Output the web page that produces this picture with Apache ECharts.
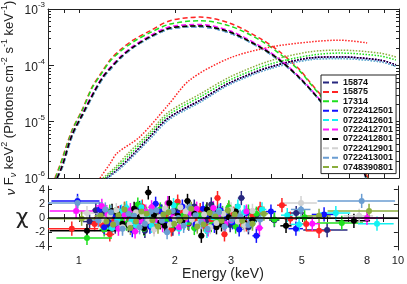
<!DOCTYPE html>
<html><head><meta charset="utf-8">
<script src="https://cdn.jsdelivr.net/npm/echarts@6/dist/echarts.min.js"></script>
<style>html,body{margin:0;padding:0;background:#fff}#c{width:407px;height:284px}</style>
</head><body><div id="c"></div>
<script>
const names = ['15874','15875','17314','0722412501','0722412601','0722412701','0722412801','0722412901','0722413001','0748390801'];
const colors = ['#27277f','#ff2424','#1ee01e','#1212ff','#12f2f2','#ff12ff','#000000','#d2d2d2','#6a9dd2','#8aad3c'];

const xTicks = [0.9,1,2,3,4,5,6,7,8,9,10];
const xLabels = [1,2,3,5,8,10];
const yMinor = [2e-6,3e-6,4e-6,5e-6,6e-6,7e-6,8e-6,9e-6,2e-5,3e-5,4e-5,5e-5,6e-5,7e-5,8e-5,9e-5,2e-4,3e-4,4e-4,5e-4,6e-4,7e-4,8e-4,9e-4];
const chiTicks = [-4,-2,0,2,4];

// model components [E keV, nuFnu]
const dashedRed = [[0.841,1.0e-6],[0.872,1.7e-6],[0.951,7.1e-6],[1.022,1.6e-5],[1.098,4.1e-5],[1.163,6.8e-5],[1.25,1.24e-4],[1.343,1.86e-4],[1.475,2.8e-4],[1.667,4.1e-4],[1.925,6.2e-4],[2.39,7.2e-4],[2.96,5.6e-4],[3.68,3.0e-4],[4.24,1.74e-4],[4.9,8.3e-5],[5.27,5.0e-5],[5.87,2.4e-5],[6.53,1.0e-5],[7.28,3.4e-6],[8.0,1.0e-6]];
const dashedGreen = [[0.845,1.0e-6],[0.875,1.7e-6],[0.953,7.0e-6],[1.025,1.6e-5],[1.1,4.0e-5],[1.165,6.6e-5],[1.25,1.18e-4],[1.343,1.75e-4],[1.475,2.6e-4],[1.667,3.8e-4],[1.925,5.4e-4],[2.39,6.2e-4],[2.96,5.0e-4],[3.68,2.8e-4],[4.24,1.6e-4],[4.9,7.9e-5],[5.27,4.8e-5],[5.87,2.3e-5],[6.53,9.6e-6],[7.28,3.3e-6],[7.98,1.0e-6]];
const dashedLowA = [[0.854,1.0e-6],[0.885,1.6e-6],[0.951,5.8e-6],[1.029,1.4e-5],[1.122,3.6e-5],[1.188,6.2e-5],[1.262,9.3e-5],[1.36,1.45e-4],[1.475,2.1e-4],[1.667,3.2e-4],[1.925,4.6e-4],[2.39,5.0e-4],[2.96,3.9e-4],[3.68,2.1e-4],[4.24,1.24e-4],[4.9,5.9e-5],[5.66,2.4e-5],[6.53,8.7e-6],[7.28,3.2e-6],[7.9,1.0e-6]];
const dashedMag = [[0.852,1.0e-6],[0.883,1.6e-6],[0.95,5.9e-6],[1.028,1.45e-5],[1.12,3.7e-5],[1.187,6.4e-5],[1.26,9.6e-5],[1.36,1.5e-4],[1.475,2.2e-4],[1.667,3.35e-4],[1.925,4.85e-4],[2.39,5.3e-4],[2.96,4.1e-4],[3.68,2.2e-4],[4.24,1.28e-4],[4.9,6.1e-5],[5.66,2.45e-5],[6.53,8.8e-6],[7.28,3.2e-6],[7.9,1.0e-6]];
const dashedLowB = [[0.856,1.0e-6],[0.887,1.55e-6],[0.953,5.6e-6],[1.031,1.35e-5],[1.124,3.5e-5],[1.19,6.0e-5],[1.264,9.0e-5],[1.36,1.4e-4],[1.475,2.05e-4],[1.667,3.1e-4],[1.925,4.45e-4],[2.39,4.8e-4],[2.96,3.75e-4],[3.68,2.05e-4],[4.24,1.2e-4],[4.9,5.8e-5],[5.66,2.35e-5],[6.53,8.5e-6],[7.28,3.1e-6],[7.88,1.0e-6]];

const dottedRed = [[1.163,1.0e-6],[1.25,1.8e-6],[1.314,2.75e-6],[1.55,5.4e-6],[1.896,1.95e-5],[2.22,5.5e-5],[2.96,1.35e-4],[3.95,2.1e-4],[5.27,2.6e-4],[6.53,2.8e-4],[7.95,2.5e-4]];
const dottedLowA = [[1.223,1.0e-6],[1.314,1.38e-6],[1.443,2.3e-6],[1.667,5.4e-6],[1.896,1.15e-5],[2.39,2.4e-5],[2.96,4.9e-5],[3.95,9.3e-5],[5.27,1.35e-4],[6.53,1.41e-4],[8.72,1.24e-4],[9.78,1.02e-4]];
const dottedLowB = [[1.23,1.0e-6],[1.32,1.35e-6],[1.45,2.2e-6],[1.675,5.1e-6],[1.905,1.08e-5],[2.4,2.25e-5],[2.96,4.6e-5],[3.95,8.7e-5],[5.27,1.26e-4],[6.53,1.32e-4],[8.72,1.16e-4],[9.78,9.6e-5]];
const dottedGreen = [[1.206,1.0e-6],[1.3,1.45e-6],[1.43,2.5e-6],[1.667,6.0e-6],[1.896,1.3e-5],[2.39,2.75e-5],[2.96,5.5e-5],[3.95,1.05e-4],[5.27,1.5e-4],[6.53,1.65e-4],[8.72,1.47e-4],[9.78,1.24e-4]];
const dottedOlive = [[1.188,1.0e-6],[1.29,1.5e-6],[1.42,2.7e-6],[1.667,6.6e-6],[1.896,1.45e-5],[2.39,3.1e-5],[2.96,6.2e-5],[3.95,1.2e-4],[5.27,1.74e-4],[6.53,1.86e-4],[8.72,1.65e-4],[9.78,1.41e-4]];

// residuals [E keV, chi, half bin width keV]; chi error is 1 by definition
const res15874 = [[1.08,-0.5,0.05],[1.18,0.6,0.04],[1.3,-1.2,0.04],[1.42,0.3,0.04],[1.55,1.4,0.04],[1.68,-0.7,0.04],[1.82,0.9,0.05],[1.97,-1.5,0.05],[2.12,0.2,0.05],[2.3,1.6,0.05],[2.5,-0.4,0.06],[2.72,0.8,0.06],[2.98,-1.0,0.07],[3.23,2.8,0.08],[3.6,0.4,0.1],[4.1,-0.3,0.15],[4.8,0.7,0.3],[6.0,-1.7,0.95],
  [1.13,1.1,0.03],[1.24,-0.9,0.03],[1.36,0.7,0.03],[1.48,-0.2,0.03],[1.61,-1.8,0.03],[1.75,0.4,0.04],[1.9,-0.3,0.04],[2.04,1.2,0.04],[2.21,-0.8,0.04],[2.4,0.3,0.05],[2.6,1.9,0.05],[2.85,-0.6,0.05],[3.1,0.5,0.06],[3.4,-1.3,0.07]];
const res15875 = [[0.95,-1.5,0.2],[1.12,-0.85,0.05],[1.19,-1.1,0.04],[1.25,-2.3,0.04],[1.33,0.7,0.04],[1.45,-0.3,0.04],[1.58,1.6,0.04],[1.72,-1.2,0.04],[1.86,0.4,0.05],[2.04,2.3,0.05],[2.2,-0.7,0.05],[2.4,1.1,0.05],[2.6,-0.2,0.06],[2.72,2.8,0.06],[2.86,-2.3,0.06],[3.05,0.6,0.07],[3.35,-0.9,0.08],[3.7,1.3,0.1],[4.33,1.8,0.15],[4.6,-0.1,0.2],[5.16,-0.85,0.3],[5.66,-1.8,0.5],
  [1.29,-0.4,0.03],[1.39,1.3,0.03],[1.51,0.2,0.03],[1.65,-0.6,0.03],[1.79,1.0,0.04],[1.95,-1.6,0.04],[2.12,0.8,0.04],[2.3,-0.1,0.04],[2.5,-1.2,0.05],[2.95,1.4,0.05],[3.2,-0.5,0.06],[3.5,0.4,0.07]];
const res17314 = [[1.06,-2.8,0.21],[1.2,-1.6,0.04],[1.3,0.5,0.04],[1.41,-0.8,0.04],[1.53,1.9,0.04],[1.66,-0.2,0.04],[1.8,1.2,0.05],[1.96,-1.0,0.05],[2.12,0.3,0.05],[2.3,-1.4,0.05],[2.5,0.9,0.06],[2.7,-0.5,0.06],[2.95,1.5,0.07],[3.25,-0.3,0.08],[3.6,0.6,0.1],[4.1,-0.2,0.15],[5.1,0.1,0.3],[6.67,-0.7,1.1],
  [1.25,0.9,0.03],[1.35,-0.3,0.03],[1.47,0.6,0.03],[1.6,-1.5,0.03],[1.73,0.3,0.04],[1.88,-0.4,0.04],[2.04,1.7,0.04],[2.2,-0.6,0.04],[2.4,0.4,0.05],[2.6,-1.0,0.05],[2.82,0.7,0.05],[3.1,-1.2,0.06],[3.4,0.9,0.07]];
const res0722412501 = [[0.99,2.4,0.17],[1.16,1.2,0.05],[1.24,-0.6,0.04],[1.35,0.8,0.04],[1.47,-1.7,0.04],[1.6,0.4,0.04],[1.74,2.0,0.04],[1.88,-0.9,0.05],[2.03,0.6,0.05],[2.2,-0.2,0.05],[2.45,1.3,0.05],[2.66,-1.1,0.06],[2.9,0.2,0.06],[3.18,-1.6,0.08],[3.6,-2.5,0.1],[4.0,0.9,0.15],[4.79,-1.5,0.25],[5.87,0.5,0.5],
  [1.2,-1.3,0.03],[1.3,0.2,0.03],[1.41,1.0,0.03],[1.54,-0.5,0.03],[1.67,-1.2,0.03],[1.81,0.9,0.04],[1.95,-0.1,0.04],[2.11,1.6,0.04],[2.32,-0.9,0.04],[2.55,0.3,0.05],[2.78,1.1,0.05],[3.03,-0.6,0.06],[3.35,0.7,0.07]];
const res0722412601 = [[1.27,-1.4,0.06],[1.36,0.9,0.04],[1.46,-0.4,0.04],[1.57,1.5,0.04],[1.69,-1.1,0.04],[1.83,0.2,0.05],[1.98,1.8,0.05],[2.14,-0.7,0.05],[2.32,0.5,0.05],[2.52,-1.8,0.06],[2.75,1.0,0.06],[3.0,-0.4,0.07],[3.3,0.8,0.08],[3.75,1.2,0.12],[4.5,0.4,0.2],[4.9,-0.9,0.3],[6.39,0.7,0.7],[8.6,-0.8,1.1],
  [1.32,-0.2,0.03],[1.41,1.4,0.03],[1.51,-1.0,0.03],[1.63,0.3,0.03],[1.76,-0.5,0.04],[1.9,0.9,0.04],[2.06,-1.5,0.04],[2.23,1.1,0.04],[2.42,-0.3,0.05],[2.63,0.1,0.05],[2.87,-1.1,0.05],[3.15,1.6,0.06],[3.5,-0.6,0.07]];
const res0722412701 = [[0.98,1.0,0.17],[1.18,1.7,0.05],[1.28,-0.9,0.04],[1.39,0.4,0.04],[1.5,-1.9,0.04],[1.62,0.9,0.04],[1.76,-0.3,0.04],[1.9,2.1,0.05],[2.06,-1.3,0.05],[2.24,0.7,0.05],[2.44,-0.5,0.05],[2.64,1.4,0.06],[2.88,-0.8,0.06],[3.1,0.3,0.07],[3.68,-1.4,0.1],[5.39,-0.8,0.3],[8.0,0.0,1.0],
  [1.23,0.5,0.03],[1.33,-1.5,0.03],[1.45,1.1,0.03],[1.56,-0.4,0.03],[1.69,1.5,0.04],[1.83,-1.0,0.04],[1.98,0.2,0.04],[2.15,-0.2,0.04],[2.34,1.3,0.05],[2.54,-1.6,0.05],[2.76,0.6,0.05],[3.0,-0.3,0.06],[3.35,0.9,0.07]];
const res0722412801 = [[1.06,-1.8,0.25],[1.22,-0.4,0.04],[1.32,0.6,0.04],[1.43,-1.0,0.04],[1.55,0.2,0.04],[1.65,3.6,0.04],[1.8,-0.6,0.05],[1.92,2.1,0.05],[2.04,0.3,0.05],[2.19,2.4,0.05],[2.42,-2.5,0.05],[2.6,0.5,0.06],[2.8,-0.9,0.06],[3.1,0.9,0.07],[3.5,-0.3,0.1],[4.46,-1.1,0.18],[7.28,-0.4,0.9],
  [1.27,1.0,0.03],[1.37,-0.8,0.03],[1.49,1.3,0.03],[1.6,-1.4,0.03],[1.72,0.4,0.04],[1.86,-1.1,0.04],[1.98,0.9,0.04],[2.11,-0.4,0.04],[2.3,0.6,0.04],[2.52,1.2,0.05],[2.7,-1.3,0.05],[2.95,0.1,0.06],[3.3,-0.7,0.07]];
const res0722412901 = [[1.06,0.7,0.1],[1.2,-0.2,0.04],[1.31,1.1,0.04],[1.44,-0.9,0.04],[1.58,0.5,0.04],[1.72,-1.6,0.04],[1.86,1.3,0.05],[2.0,-0.1,0.05],[2.16,0.9,0.05],[2.36,-0.8,0.05],[2.58,-1.3,0.06],[2.84,0.6,0.06],[3.15,-0.5,0.07],[3.5,1.0,0.1],[4.97,2.1,0.6],[7.56,0.3,0.8],
  [1.25,0.4,0.03],[1.37,-1.3,0.03],[1.51,0.8,0.03],[1.65,-0.4,0.03],[1.79,0.1,0.04],[1.93,-0.9,0.04],[2.08,1.5,0.04],[2.26,-0.2,0.04],[2.47,0.5,0.05],[2.7,-0.7,0.05],[3.0,1.2,0.06],[3.3,-1.0,0.07]];
const res0722413001 = [[0.99,2.1,0.2],[1.15,-0.3,0.05],[1.26,0.8,0.04],[1.37,-1.5,0.04],[1.49,0.3,0.04],[1.61,-0.8,0.04],[1.75,1.1,0.04],[1.89,-2.0,0.05],[2.05,0.0,0.05],[2.22,1.5,0.05],[2.42,-0.6,0.05],[2.65,0.5,0.06],[2.86,-1.2,0.06],[3.2,0.2,0.08],[3.7,-0.2,0.12],[4.97,1.2,0.35],[7.7,2.4,2.1],
  [1.21,1.2,0.03],[1.31,-0.7,0.03],[1.43,0.6,0.03],[1.55,-1.3,0.03],[1.68,0.9,0.04],[1.82,-0.4,0.04],[1.97,1.0,0.04],[2.13,-1.1,0.04],[2.32,0.4,0.04],[2.53,-1.5,0.05],[2.75,0.8,0.05],[3.02,-0.2,0.06],[3.4,-1.0,0.07]];
const res0748390801 = [[1.02,-0.1,0.3],[1.17,0.3,0.05],[1.28,-0.9,0.04],[1.39,1.2,0.04],[1.51,-0.5,0.04],[1.63,0.6,0.04],[1.77,-1.2,0.04],[1.91,0.8,0.05],[2.07,-0.3,0.05],[2.25,1.3,0.05],[2.46,-0.9,0.05],[2.68,0.2,0.06],[2.93,1.1,0.06],[3.25,-0.4,0.08],[3.8,0.6,0.12],[5.66,0.3,0.5],[8.12,1.0,2.1],
  [1.22,-0.5,0.03],[1.33,0.4,0.03],[1.45,-1.4,0.03],[1.57,0.9,0.03],[1.7,-0.3,0.04],[1.84,0.5,0.04],[1.99,-0.8,0.04],[2.16,0.1,0.04],[2.35,-1.2,0.05],[2.57,0.7,0.05],[2.8,-0.4,0.05],[3.08,0.5,0.06],[3.5,-0.8,0.08]];

const dashedOf = [dashedLowA,dashedRed,dashedGreen,dashedLowB,dashedLowB,dashedMag,dashedLowA,dashedLowB,dashedLowB,dashedLowA];
const dottedOf = [dottedLowA,dottedRed,dottedGreen,dottedLowA,dottedLowB,dottedLowA,dottedLowA,dottedLowB,dottedLowB,dottedOlive];
const resOf = [res15874,res15875,res17314,res0722412501,res0722412601,res0722412701,res0722412801,res0722412901,res0722413001,res0748390801];

const FF = 'Liberation Sans';
const frame = {show:true, lineStyle:{color:'#222', width:1}};

function errRender(params, api) {
  const e = api.value(0), c = api.value(1), d = api.value(2);
  const pl = api.coord([e - d, c]), pr = api.coord([e + d, c]);
  const pt = api.coord([e, c + 1]), pb = api.coord([e, c - 1]);
  const st = {stroke: api.visual('color'), lineWidth: 1.5};
  return {type:'group', children:[
    {type:'line', shape:{x1:pl[0],y1:pl[1],x2:pr[0],y2:pr[1]}, style:st},
    {type:'line', shape:{x1:pt[0],y1:pt[1],x2:pb[0],y2:pb[1]}, style:st}
  ]};
}

const series = [];
names.forEach((n,i)=>{
  const zz = (i===6) ? 4 : (i===5 ? 3.5 : 3);
  series.push({name:n, type:'line', xAxisIndex:0, yAxisIndex:0, data:dashedOf[i], showSymbol:false, smooth:0.3, z:zz,
    lineStyle:{color:colors[i], width:1.5, type:[5,3]}, itemStyle:{color:colors[i]}});
});
names.forEach((n,i)=>{
  series.push({name:n, type:'line', xAxisIndex:0, yAxisIndex:0, data:dottedOf[i], showSymbol:false, smooth:0.3, z:3,
    lineStyle:{color:colors[i], width:1.5, type:[1.5,1.5]}, itemStyle:{color:colors[i]}});
});
names.forEach((n,i)=>{
  series.push({name:n, type:'custom', xAxisIndex:2, yAxisIndex:4, data:resOf[i], renderItem:errRender, clip:true,
    itemStyle:{color:colors[i]}, z:2});
  series.push({name:n, type:'scatter', xAxisIndex:2, yAxisIndex:4, data:resOf[i], symbol:'circle', symbolSize:6, clip:true,
    itemStyle:{color:colors[i], opacity:1}, z:2});
});
series.push({type:'line', xAxisIndex:2, yAxisIndex:4, data:[], z:5, silent:true,
  markLine:{symbol:'none', silent:true, label:{show:false}, lineStyle:{color:'#000', width:1.5, type:'solid'}, data:[{yAxis:0}]}});

const xBase = {type:'log', logBase:10, min:0.8, max:10, splitLine:{show:false}, axisLine:frame};
const option = {
  animation:false,
  backgroundColor:'#fff',
  textStyle:{fontFamily:FF},
  grid:[{left:48, right:8, top:9, height:169}, {left:48, right:8, top:186, height:64}],
  legend:{orient:'vertical', left:321, top:75, padding:[3,3,2,2], itemWidth:15, itemHeight:2, itemGap:0.4,
    backgroundColor:'#fff', borderColor:'#222', borderWidth:1, selectedMode:false, z:20,
    textStyle:{fontSize:9, fontWeight:'bold', color:'#111', fontFamily:FF, lineHeight:9},
    data:names.map((n,i)=>({name:n, icon:'path://M0 0h6v2H0z M9 0h6v2H9z', itemStyle:{color:colors[i], borderWidth:0}}))},
  xAxis:[
    Object.assign({}, xBase, {gridIndex:0, position:'bottom', axisTick:{inside:true, length:4, customValues:xTicks, lineStyle:{color:'#222'}}, axisLabel:{show:false}}),
    Object.assign({}, xBase, {gridIndex:0, position:'top', axisTick:{inside:true, length:4, customValues:xTicks, lineStyle:{color:'#222'}}, axisLabel:{show:false}}),
    Object.assign({}, xBase, {gridIndex:1, position:'bottom', axisTick:{inside:true, length:4, customValues:xTicks, lineStyle:{color:'#222'}},
      axisLabel:{show:true, customValues:xLabels, fontSize:11, color:'#222', margin:5, fontFamily:FF, formatter:v=>String(Math.round(v))},
      name:'Energy (keV)', nameLocation:'middle', nameGap:15, nameTextStyle:{fontSize:14, color:'#222', fontFamily:FF}}),
    Object.assign({}, xBase, {gridIndex:1, position:'top', axisTick:{inside:true, length:4, customValues:xTicks, lineStyle:{color:'#222'}}, axisLabel:{show:false}})
  ],
  yAxis:[
    {gridIndex:0, type:'log', logBase:10, min:1e-6, max:1e-3, position:'left', splitLine:{show:false}, axisLine:frame,
      axisTick:{inside:true, length:6, lineStyle:{color:'#222'}},
      axisLabel:{margin:3, fontFamily:FF, formatter:v=>'{b|10}{s|'+Math.round(Math.log10(v))+'}',
        rich:{b:{fontSize:12, color:'#222', fontFamily:FF, lineHeight:16, verticalAlign:'bottom'}, s:{fontSize:8, color:'#222', fontFamily:FF, lineHeight:9, verticalAlign:'top'}}}},
    {gridIndex:0, type:'log', logBase:10, min:1e-6, max:1e-3, position:'left', splitLine:{show:false}, axisLine:{show:false},
      axisTick:{inside:true, length:3, customValues:yMinor, lineStyle:{color:'#222'}}, axisLabel:{show:false}},
    {gridIndex:0, type:'log', logBase:10, min:1e-6, max:1e-3, position:'right', splitLine:{show:false}, axisLine:frame,
      axisTick:{inside:true, length:6, lineStyle:{color:'#222'}}, axisLabel:{show:false}},
    {gridIndex:0, type:'log', logBase:10, min:1e-6, max:1e-3, position:'right', splitLine:{show:false}, axisLine:{show:false},
      axisTick:{inside:true, length:3, customValues:yMinor, lineStyle:{color:'#222'}}, axisLabel:{show:false}},
    {gridIndex:1, type:'value', min:-4.5, max:4.5, position:'left', splitLine:{show:false}, axisLine:frame,
      axisTick:{inside:true, length:4, customValues:chiTicks, lineStyle:{color:'#222'}},
      axisLabel:{customValues:chiTicks, fontSize:11, color:'#222', margin:3, fontFamily:FF}},
    {gridIndex:1, type:'value', min:-4.5, max:4.5, position:'right', splitLine:{show:false}, axisLine:frame,
      axisTick:{inside:true, length:4, customValues:chiTicks, lineStyle:{color:'#222'}}, axisLabel:{show:false}}
  ],
  graphic:[
    {type:'text', x:9, y:98, rotation:Math.PI/2, z:30,
      style:{text:'{i|ν} F{sb|ν} keV{sp|2} (Photons cm{sp|-2} s{sp|-1} keV{sp|-1})', fill:'#222', fontSize:13, fontFamily:FF,
        align:'center', verticalAlign:'middle', lineHeight:17,
        rich:{i:{fontSize:13, fontStyle:'italic', fontFamily:FF, lineHeight:17, verticalAlign:'bottom', fill:'#222'},
              sb:{fontSize:9, fontStyle:'italic', fontFamily:FF, lineHeight:10, verticalAlign:'bottom', fill:'#222'},
              sp:{fontSize:9, fontFamily:FF, lineHeight:9, verticalAlign:'top', fill:'#222'}}}},
    {type:'text', x:22, y:218, z:30, style:{text:'χ', fill:'#222', fontSize:22, fontFamily:'DejaVu Sans', align:'center', verticalAlign:'middle'}}
  ],
  series:series
};
const chart = echarts.init(document.getElementById('c'), null, {renderer:'canvas'});
chart.setOption(option);
</script></body></html>
